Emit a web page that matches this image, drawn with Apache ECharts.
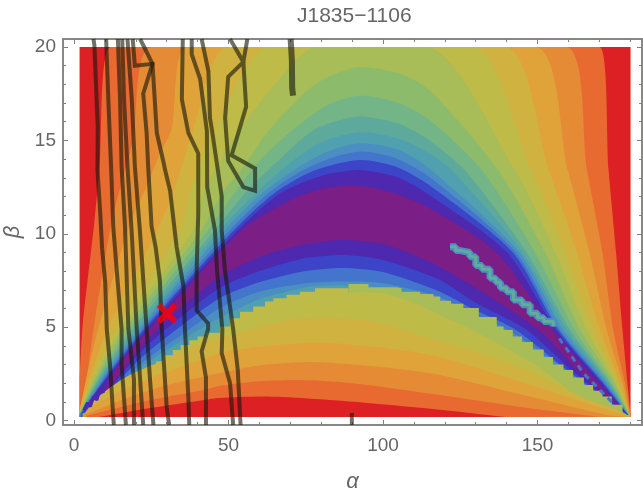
<!DOCTYPE html>
<html><head><meta charset="utf-8">
<style>html,body{margin:0;padding:0;background:#fff}#c{width:643px;height:492px}</style>
<script src="https://cdn.jsdelivr.net/npm/echarts@6/dist/echarts.min.js"></script>
</head><body><div id="c"></div>
<script>
const titleText = 'J1835\u22121106';
const xMajorTicks = [0,50,100,150];
const yMajorTicks = [0,5,10,15,20];
const xMinorTicks = [10,20,30,40,60,70,80,90,110,120,130,140,160,170,180];
const yMinorTicks = [1,2,3,4,6,7,8,9,11,12,13,14,16,17,18,19];

const plane = [[1.8,20],[180.1,20]];
const bandA1 = [[1.8,2.2],[2.8,5.1],[6.5,10.5],[8.2,13.4],[11.9,20],[170,20],[173,13.4],[175.4,9],[177.5,4.85],[179.4,1.5],[180.1,.3]];
const bandA2 = [[1.8,.6],[3.3,1.5],[4.9,3.2],[6.5,5.1],[12,10.5],[16.5,13.4],[19.1,15],[25.5,20],[159,20],[166,13.4],[171,9],[174.5,4.85],[178.3,2],[180.1,.2]];
const bandA3 = [[1.8,.5],[4.3,2.5],[8.2,5.1],[18,10.5],[24,12.7],[27.8,14.3],[31.6,15.6],[37,20],[149,20],[159.8,13.4],[166.8,9],[172.4,4.85],[177.6,2],[180,.2]];
const bandA4 = [[1.8,.45],[5.5,2.5],[11.4,5.1],[27,10.2],[32,12.2],[34.5,13.4],[38.6,15.6],[50,20],[139.2,20],[153.7,13.4],[162.7,9],[170.2,4.85],[176.7,2],[180,.2]];
const bandA5 = [[1.8,.4],[6.4,2.5],[14.2,5.1],[34.3,10.2],[37.5,12.2],[40,13.4],[45.6,15.6],[63.4,20],[128.7,20],[147.9,13.4],[158.9,9],[168,4.85],[176.2,2],[179.8,.25]];
const bandA6 = [[1.8,.38],[7.1,2.5],[16,5.1],[38.6,10.2],[41.8,12.2],[45.5,13.4],[53.7,15.6],[65,18],[78.5,20],[114,20],[142.7,13.4],[155.7,9],[165.9,4.85],[175.4,2],[179.8,.25]];
const bandA7 = [[1.8,.36],[7.8,2.5],[17.4,5.1],[41.3,10.2],[48,12.2],[54,13.4],[63.4,15.6],[78,18],[93,18.93],[105,18.6],[115,17.7],[137.3,13.4],[152.4,9],[163.8,4.85],[174.8,2],[179.8,.25]];
const bandA8 = [[1.8,.34],[8.4,2.5],[18.8,5.1],[43.4,10.2],[52,12.2],[60,13.9],[71,15.6],[82,16.9],[93,17.4],[105,17],[115,16.1],[132,13.4],[149.2,9],[162.1,4.85],[174,2],[179.7,.25]];
const bandA9 = [[1.8,.32],[9,2.5],[20,5.1],[45.6,10.2],[56,12.3],[66,13.9],[78,15.6],[93,16.28],[105,15.9],[115,15],[126.5,13.4],[146.5,9],[160.5,4.85],[173.5,2],[179.7,.25]];
const bandA10 = [[1.8,.3],[9.6,2.5],[21.2,5.1],[47.2,10.2],[59,12.2],[70,13.8],[80,14.9],[93,15.44],[105,15.1],[115,14.3],[122.2,13.4],[145.2,9],[159.4,4.85],[172.9,2],[179.6,.25]];
const bandA11 = [[1.8,.3],[10.1,2.5],[22.1,5.1],[48.8,10.2],[61,12.2],[72,13.5],[82,14.4],[93,14.85],[105,14.5],[115,13.5],[144.1,9],[158.3,4.85],[172.4,2],[179.6,.25]];
const bandA12 = [[2,.3],[10.7,2.5],[23,5.1],[50.5,10.2],[63,12.2],[74,13.4],[84,14.1],[93,14.4],[104,14.05],[115,13.05],[143,9],[157.3,4.85],[171.8,2],[179.6,.25]];
const bandA13 = [[2.4,.4],[11.2,2.5],[23.8,5.1],[51.8,10.2],[65,12.2],[78,13.4],[93,13.95],[104,13.6],[115,12.6],[142,9],[156.7,4.85],[171.3,2],[179.5,.25]];
const bandA14 = [[5,1.05],[11.8,2.5],[24.6,5.1],[53,10.2],[67,12.2],[80,13.1],[92,13.41],[105,13],[115,12.08],[140.2,9],[156,4.85],[170.8,2],[179.5,.25]];
const bandA15 = [[10,1.85],[15,3.1],[21,4.3],[25.5,5.1],[54.3,10.2],[70,11.8],[80,12.4],[90,12.6],[103,12.2],[115.2,11.36],[136.8,9],[155,4.85],[169.7,2],[179.5,.25]];
const lowL1 = [[5,.75],[11.4,1.75],[22.2,4.05],[35,6.1],[47.2,7.7],[60,8.75],[75,9.45],[87,9.67],[100,9.45],[115,8.5],[130,7.1],[150.3,4.85],[163,2.7],[179.5,.25]];
const lowL2 = [[3,.28],[11,1.6],[22,3.75],[35,5.6],[47.2,7.1],[60,8],[75,8.7],[87,8.87],[100,8.6],[118.4,7.53],[130,6.3],[146.5,4.85],[161,2.7],[179.5,.25]];
const lowL3 = [[3,.26],[11,1.5],[22,3.4],[35,5.1],[47.2,6.56],[60,7.4],[75,8],[87,8.17],[100,7.95],[118.4,6.9],[130,5.9],[143,4.85],[159.6,2.7],[179.5,.25]];
const lowL4 = [[3,.24],[11,1.4],[22,3.1],[35,4.6],[47.2,6.03],[60,6.9],[75,7.35],[87,7.44],[100,7.35],[118.4,6.6],[130,5.6],[140,4.9],[158.4,2.8],[179.5,.25]];
const lowL5 = [[3,.22],[11,1.35],[22,2.9],[35,4.3],[47.2,5.5],[60,6.5],[70,6.95],[78,7.2],[88.8,7.25]];
const jagOlive = [[88.8,7.31],[93.6,7.31],[95.3,7.14],[104.4,7.08],[106,6.9],[112,6.78],[116.3,6.64],[118.5,6.42],[122,6.25],[126,6.03],[131,5.55],[136.8,5.03],[139,4.85],[142,4.5],[145,4.2],[148.5,3.8],[152,3.4],[155,3],[158.4,2.7],[161.5,2.3],[165,1.9],[168,1.6],[171,1.28],[174,.85],[177.5,.3],[180,.2]];
const jagYellow = [[2.8,.39],[6,.85],[8,1.05],[10.4,1.28],[13,1.65],[16.8,1.99],[19.5,2.35],[22.2,2.7],[24.5,2.95],[26.5,3.16],[29,3.5],[32,3.78],[34.5,4.05],[37.3,4.3],[40,4.5],[42.7,4.7],[47.2,5.03],[50.5,5.48],[53.7,5.83],[58,6.1],[61.8,6.37],[64.5,6.55],[68.8,6.73],[73.1,6.9],[78,7.08],[88.8,7.17]];
const arcYellow = [[78,6.7],[90.6,6.85],[101,6.78],[110,6.3],[118.4,5.65],[129,4.85],[150,2.9],[169,.57],[179.5,.2]];
const arcM1 = [[3,.25],[7.3,1.2],[17,2.35],[30,3.3],[40,4.05],[47.2,4.45],[56.3,4.85],[70,5.4],[83.9,5.5],[100,5.2],[115,4.42],[130,3.7],[147.6,2.62],[165,1.2],[176,.55],[180,.2]];
const arcM2 = [[4,.35],[6.8,.84],[17,1.73],[30,2.6],[42,3.3],[47.2,3.6],[60,3.95],[78.5,4.17],[100,3.9],[118.4,3.4],[147.6,1.9],[175,.45],[180,.2]];
const arcM3 = [[3,.3],[6.2,.48],[17,1.2],[30,1.9],[42,2.35],[47.2,2.55],[60,2.95],[76.4,3.13],[100,2.85],[118.4,2.44],[147.6,1.28],[172.4,.3],[180,.2]];
const arcM4 = [[4.1,.25],[11.7,.57],[24.6,1.1],[42,1.64],[47,1.85],[60,2.1],[72,2.17],[90,2],[118.4,1.37],[150,.6],[170,.2]];
const arcM5 = [[8.4,.2],[24.6,.67],[42.4,1.1],[47,1.2],[61,1.28],[90.4,1],[118.4,.57],[139,.19]];
const stripMain = [[121.7,9.3],[123.5,9.1],[125,9],[128.1,8.77],[130,8.3],[132,8.1],[134.6,7.62],[136.5,7.4],[138,7.1],[140,6.9],[142.2,6.46],[145,6.2],[147.6,5.74],[150,5.5],[152,5.3],[155.1,5.03]];
const stripTail = [[157,4.4],[160,3.7],[162,3.2],[165,2.5],[168,2],[171,1.5],[174,1]];
const apexZigzag = [[3.2,.55],[4.4,.95],[5.3,.75],[6.4,1.3],[7.4,1.1],[8.4,1.7],[9.4,1.5],[10.4,2.05]];
const apexTip = [[2.8,.4]];
const contours = [
 [[6.3,20.43],[6.6,20.1],[7.7,15.7],[7.6,13.4],[8.5,11.1],[9.1,9.2],[10.1,7.4],[10.6,4.9],[11.7,2.9],[12.7,.2],[12.9,-.24]],
 [[10.4,20.43],[11.1,17.2],[12,13.6],[12.7,10.4],[13.8,8.1],[15.4,4.9],[15.4,3],[16.8,-.24]],
 [[14.2,20.43],[14.9,17.2],[15.4,13.6],[16.5,10.4],[17.6,4.9],[19.4,2.2],[19.4,-.24]],
 [[15.6,20.43],[16.2,17.2],[17.3,13.6],[18.7,10],[20.3,4.9],[21.4,2.2],[22.4,-.24]],
 [[17.3,20.43],[18.7,17.2],[19.7,13.6],[21.4,10],[23.5,4.9],[24.6,2.2],[25.7,-.24]],
 [[21.4,20.43],[25.4,19.1],[22.4,17.5],[23.5,15.4],[24,13.6],[25.1,10.4],[26.4,9.3],[27.8,7.5],[28.4,4.9],[29.1,3],[30,.7],[30.8,-.24]],
 [[19,20.43],[19.7,19],[25.4,19.1],[26.8,15.4],[29,13.8],[29.5,13.4],[31.1,12.3],[33.2,9.3],[35.4,7.2],[35.9,4.9],[37,1.25],[37.3,-.24]],
 [[35.2,20.43],[34.9,17.2],[37,15.4],[40.2,14.3],[40.2,13.4],[40.2,11.1],[39.7,8.1],[39.7,5.9],[43.4,5.2],[43.4,4.9],[41.3,3.7],[42.7,2.3],[42.7,-.24]],
 [[38.1,20.43],[38.1,19.6],[40.8,18.3],[43,15.5],[43.1,12.5],[45.6,10.2],[46.3,8],[48,4.9],[47.8,3.6],[50.5,2],[51.5,-.24]],
 [[41.3,20.43],[43.5,18.7],[44,16.2],[44.6,15.6],[47.8,12],[47.8,10.2],[48.8,8.1],[51.5,4.9],[53,2.7],[53.9,-.24]],
 [[50.5,20.43],[54.8,19.2],[49.9,18.4],[48.9,16.2],[49.9,13.9],[54.8,12.5],[58.6,12.3],[58.6,13.5],[51,14.2],[55.7,16.8],[54.8,19.2],[56.1,20.43]]
];
const stubTop = [[70.1,20.43],[70.5,19.3],[70.6,17.8],[70.9,17.4]];
const stubBottom = [[89.9,.4],[89.9,-.24]];
const bestFit = [[30.1,5.74]];

const c = {red:'#DC2024',orr:'#E86A30',ora:'#E58B35',lor:'#E0A33A',yor:'#CFB23F',yol:'#BFBB48',oli:'#A8BC57',
 gre:'#8DBB6C',tgr:'#74B587',tea:'#5DA99C',st1:'#50A0B0',st2:'#4A8EC2',blu:'#4475CC',bri:'#3C45C8',ind:'#4E28AF',pur:'#7B1E85'};
const X0=-3.56,X1=183.8,Y0=-0.24,Y1=20.43,BASE=0.19;
function band(data,color,opt){return Object.assign({type:'line',data,symbol:'none',smooth:0.25,silent:true,clip:true,
 lineStyle:{width:0,color},itemStyle:{color},areaStyle:{color,opacity:1,origin:BASE},animation:false},opt||{});}
function dark(data,w){return {type:'line',data,symbol:'none',silent:true,clip:true,animation:false,lineStyle:{width:w||4,color:'rgba(25,25,10,0.62)',join:'miter'},z:10};}
const plain=(data,width,color,extra)=>Object.assign({type:'line',data,symbol:'none',silent:true,animation:false,lineStyle:{width,color}},extra||{});
const series=[
 band(plane,c.red,{smooth:false}),band(bandA1,c.orr),band(bandA2,c.ora),band(bandA3,c.lor),band(bandA4,c.yor),band(bandA5,c.yol),
 band(bandA6,c.oli),band(bandA7,c.gre),band(bandA8,c.tgr),band(bandA9,c.tea),band(bandA10,c.st1),band(bandA11,c.st2),band(bandA12,c.blu),
 band(bandA13,c.bri),band(bandA14,c.ind),band(bandA15,c.pur),
 plain(stripMain,7,'#4A8EC2',{step:'end'}),plain(stripMain,3,'#62AD9A',{step:'end'}),
 {type:'line',data:stripTail,symbol:'none',silent:true,animation:false,lineStyle:{width:3,color:'#4475CC',type:[6,5]}},
 band(lowL1,c.ind),band(lowL2,c.bri),band(lowL3,c.blu),band(lowL4,c.st2),band(lowL5,c.st1),
 plain(apexZigzag,3,c.ind),
 band(jagOlive,c.oli,{smooth:false,step:'end'}),band(arcYellow,c.yol),band(jagYellow,c.yol,{smooth:false,step:'end'}),
 band(arcM1,c.yor),band(arcM2,c.lor),band(arcM3,c.ora),band(arcM4,c.orr),band(arcM5,c.red),
 {type:'scatter',data:apexTip,symbolSize:6,itemStyle:{color:c.tea},silent:true,animation:false}
];
contours.forEach(l=>series.push(dark(l)));
series.push(dark(stubTop,6),dark(stubBottom,4));
series.push({type:'scatter',data:bestFit,symbol:'path://M4,0 L10,6 L16,0 L20,4 L14,10 L20,16 L16,20 L10,14 L4,20 L0,16 L6,10 L0,4 Z',symbolSize:21,itemStyle:{color:'#FF0000'},z:20,silent:true,animation:false});

const grey='#808080',txt='#666666',font='Liberation Sans';
const line={show:true,onZero:false,lineStyle:{color:grey,width:1.5}};
function ax(type,pos,ticks,len,labels,extra){
 const lim=type==='x'?{min:X0,max:X1}:{min:Y0,max:Y1};
 return Object.assign({type:'value',position:pos,...lim,axisLine:line,splitLine:{show:false},
  axisTick:{show:true,inside:true,length:len,lineStyle:{color:grey,width:1},customValues:ticks},
  axisLabel:labels?{show:true,customValues:labels,color:txt,fontSize:19,fontFamily:font,margin:type==='x'?11:7}:{show:false}},extra||{});
}
const nameStyle={color:txt,fontSize:22,fontStyle:'italic',fontFamily:font};
const chart=echarts.init(document.getElementById('c'),null,{renderer:'canvas'});
chart.setOption({animation:false,backgroundColor:'#fff',
 title:{text:titleText,left:292,top:1,textStyle:{color:txt,fontSize:21,fontWeight:'normal',fontFamily:font}},
 grid:{left:63,top:39,width:579,height:386,containLabel:false,outerBoundsMode:'none'},
 xAxis:[ax('x','bottom',xMajorTicks,5,xMajorTicks,{name:'\u03B1',nameLocation:'middle',nameGap:46,nameTextStyle:nameStyle}),
  ax('x','bottom',xMinorTicks,3),ax('x','top',xMajorTicks,5),ax('x','top',xMinorTicks,3)],
 yAxis:[ax('y','left',yMajorTicks,5,yMajorTicks,{name:'\u03B2',nameLocation:'middle',nameGap:38,nameRotate:90,nameTextStyle:nameStyle}),
  ax('y','left',yMinorTicks,3),ax('y','right',yMajorTicks,5),ax('y','right',yMinorTicks,3)],
 series});
</script></body></html>
